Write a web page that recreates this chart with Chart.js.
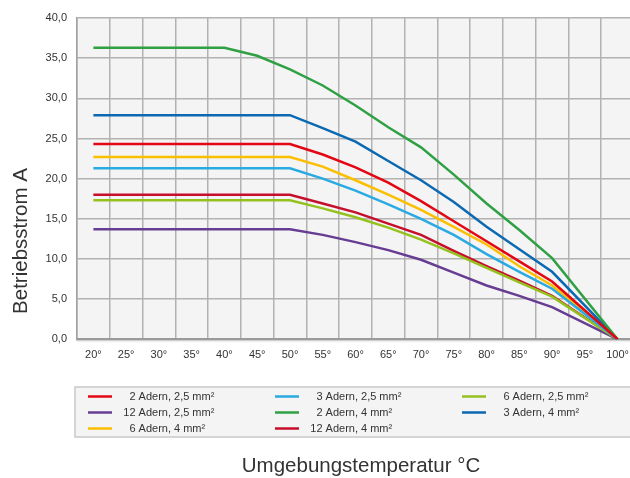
<!DOCTYPE html>
<html>
<head>
<meta charset="utf-8">
<script src="https://cdn.jsdelivr.net/npm/chart.js@4/dist/chart.umd.min.js"></script>
<style>
  html, body { margin: 0; padding: 0; background: #fff; overflow: hidden; }
  #wrap { width: 640px; height: 478px; }
</style>
</head>
<body>
<div id="wrap"><canvas id="deratingChart" width="640" height="478"></canvas></div>
<script>
// Temperatur-Kategorien (x-Achse)
const temps = ["20°", "25°", "30°", "35°", "40°", "45°", "50°", "55°", "60°", "65°", "70°", "75°", "80°", "85°", "90°", "95°", "100°"];

// Betriebsstrom je Kabeltyp, 95° ohne eigenen Stützpunkt (null)
const adern2_25 = [24.3, 24.3, 24.3, 24.3, 24.3, 24.3, 24.3, 23.0, 21.4, 19.5, 17.2, 14.7, 12.2, 9.7, 7.2, null, 0];
const adern3_25 = [21.3, 21.3, 21.3, 21.3, 21.3, 21.3, 21.3, 20.0, 18.5, 16.8, 15.0, 13.0, 10.6, 8.4, 6.3, null, 0];
const adern6_25 = [17.3, 17.3, 17.3, 17.3, 17.3, 17.3, 17.3, 16.3, 15.2, 13.9, 12.4, 10.7, 8.9, 7.1, 5.3, null, 0];
const adern12_25 = [13.7, 13.7, 13.7, 13.7, 13.7, 13.7, 13.7, 13.0, 12.1, 11.1, 9.9, 8.3, 6.7, 5.4, 4.0, null, 0];
const adern2_4 = [36.3, 36.3, 36.3, 36.3, 36.3, 35.3, 33.6, 31.6, 29.1, 26.4, 23.9, 20.5, 16.9, 13.6, 10.1, null, 0];
const adern3_4 = [27.9, 27.9, 27.9, 27.9, 27.9, 27.9, 27.9, 26.3, 24.6, 22.2, 19.8, 17.1, 14.0, 11.2, 8.4, null, 0];
const adern6_4 = [22.7, 22.7, 22.7, 22.7, 22.7, 22.7, 22.7, 21.5, 19.8, 18.0, 16.1, 14.0, 11.8, 9.1, 6.7, null, 0];
const adern12_4 = [18.0, 18.0, 18.0, 18.0, 18.0, 18.0, 18.0, 16.9, 15.8, 14.4, 13.0, 11.0, 9.1, 7.3, 5.4, null, 0];

const seriesLabels = [
  "2 Adern, 2,5 mm²", "3 Adern, 2,5 mm²", "6 Adern, 2,5 mm²",
  "12 Adern, 2,5 mm²", "2 Adern, 4 mm²", "3 Adern, 4 mm²",
  "6 Adern, 4 mm²", "12 Adern, 4 mm²"
];
const seriesColors = ["#e30613", "#29abe2", "#95c11f", "#663d92", "#2fa043", "#0a69b1", "#fcbf00", "#c60f2c"];
const seriesData = [adern2_25, adern3_25, adern6_25, adern12_25, adern2_4, adern3_4, adern6_4, adern12_4];

const yTicks = [0, 5, 10, 15, 20, 25, 30, 35, 40];

const FONT = "'Liberation Sans', Arial, sans-serif";

// Hintergrund der Plotfläche
const plotBg = {
  id: "plotBg",
  beforeDraw(chart) {
    const a = chart.chartArea;
    const c = chart.ctx;
    c.save();
    c.fillStyle = "#f4f4f4";
    c.fillRect(a.left, a.top, a.right - a.left, a.bottom - a.top);
    c.restore();
  }
};

// Achsentitel und Legende unten im Kasten
const extras = {
  id: "extras",
  afterDraw(chart) {
    const c = chart.ctx;
    c.save();
    // shadow under the x axis
    const a = chart.chartArea;
    c.fillStyle = "rgba(0,0,0,0.06)";
    c.fillRect(a.left, a.bottom + 1, a.right - a.left, 2);

    c.fillStyle = "#333";
    c.font = "20.5px " + FONT;
    c.textAlign = "center";
    c.textBaseline = "middle";
    c.fillText("Umgebungstemperatur °C", 361, 466);
    c.save();
    c.translate(21, 241);
    c.rotate(-Math.PI / 2);
    c.fillText("Betriebsstrom A", 0, 0);
    c.restore();

    // legend box
    c.fillStyle = "#f4f4f4";
    c.fillRect(75, 387, 570, 50);
    c.strokeStyle = "#c8c8c8";
    c.lineWidth = 1.5;
    c.strokeRect(75, 387, 570, 50);

    c.font = "11px " + FONT;
    c.textBaseline = "middle";
    chart.data.datasets.forEach(function (ds, i) {
      const col = i % 3;
      const row = Math.floor(i / 3);
      const x0 = 88 + col * 187;
      const y = 396.5 + row * 16;
      c.strokeStyle = ds.borderColor;
      c.lineWidth = 2.5;
      c.beginPath();
      c.moveTo(x0, y);
      c.lineTo(x0 + 24, y);
      c.stroke();
      const sp = ds.label.indexOf(" ");
      const num = ds.label.slice(0, sp);
      const rest = ds.label.slice(sp);
      c.fillStyle = "#333";
      c.textAlign = "right";
      c.fillText(num, x0 + 47.5, y);
      c.textAlign = "left";
      c.fillText(rest, x0 + 47.5, y);
    });
    c.restore();
  }
};

const ctx = document.getElementById("deratingChart").getContext("2d");
const deratingChart = new Chart(ctx, {
  type: "line",
  data: {
    labels: temps,
    datasets: seriesData.map(function (d, i) {
      return {
        label: seriesLabels[i],
        data: d,
        borderColor: seriesColors[i],
        backgroundColor: seriesColors[i],
        borderWidth: 2.5,
        pointRadius: 0,
        tension: 0,
        spanGaps: true,
        fill: false
      };
    })
  },
  options: {
    responsive: false,
    animation: false,
    devicePixelRatio: 1,
    layout: { padding: { left: 0, right: 6, top: 18, bottom: 0 } },
    plugins: {
      legend: { display: false },
      tooltip: { enabled: false }
    },
    scales: {
      x: {
        type: "category",
        offset: true,
        afterFit: function (scale) { scale.height = 138.7; },
        grid: { offset: true, color: "#b2b2b2", lineWidth: 1.5, drawTicks: false },
        border: { color: "#9a9a9a", width: 2 },
        ticks: {
          color: "#333",
          padding: 9,
          maxRotation: 0,
          autoSkip: false,
          font: { family: FONT, size: 11 }
        }
      },
      y: {
        min: 0,
        max: 40,
        afterFit: function (scale) { scale.width = 77; },
        afterBuildTicks: function (scale) {
          scale.ticks = yTicks.map(function (v) { return { value: v }; });
        },
        grid: { color: "#b2b2b2", lineWidth: 1.5, drawTicks: false },
        border: { color: "#a0a0a0", width: 1.5 },
        ticks: {
          color: "#333",
          padding: 10,
          font: { family: FONT, size: 11 },
          callback: function (v) { return v.toFixed(1).replace(".", ","); }
        }
      }
    }
  },
  plugins: [plotBg, extras]
});
</script>
</body>
</html>
